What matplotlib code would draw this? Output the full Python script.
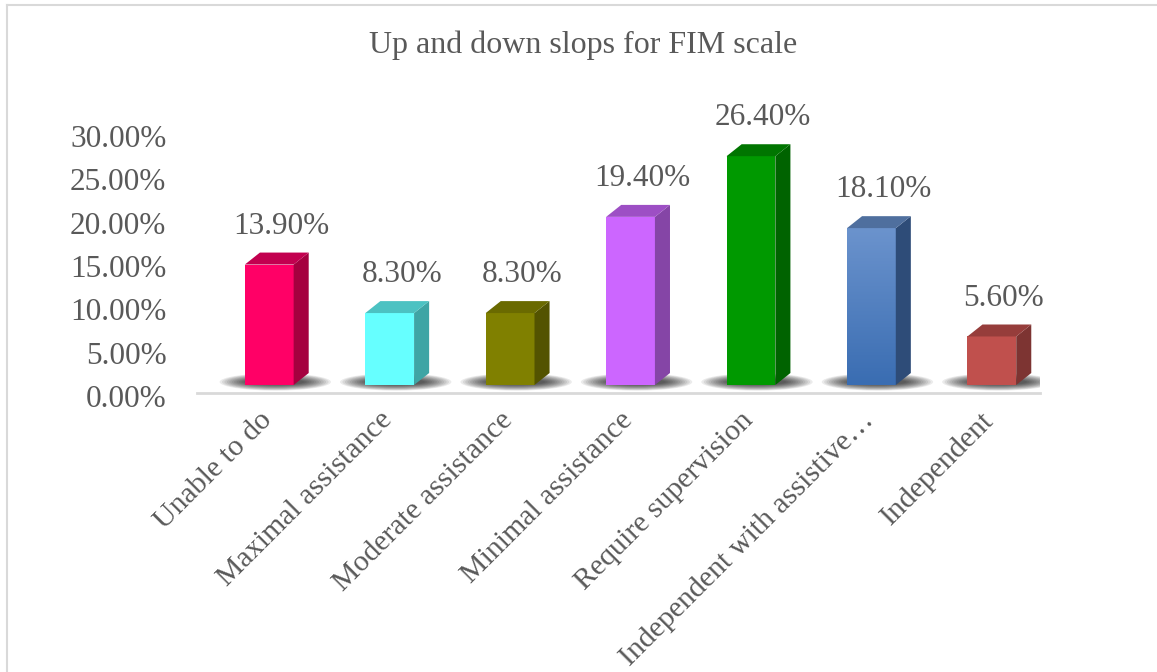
import numpy as np
import matplotlib.pyplot as plt
from matplotlib.patches import Polygon, Ellipse
from matplotlib.lines import Line2D
from matplotlib.colors import LinearSegmentedColormap

categories = ["Unable to do", "Maximal assistance", "Moderate assistance",
              "Minimal assistance", "Require supervision",
              "Independent with assistive\u2026", "Independent"]
values = [13.9, 8.3, 8.3, 19.4, 26.4, 18.1, 5.6]
labels = ["13.90%", "8.30%", "8.30%", "19.40%", "26.40%", "18.10%", "5.60%"]
yticks = [0, 5, 10, 15, 20, 25, 30]

# front / side / top colours for each box
front = ["#FF0066", "#66FFFF", "#808000", "#CC66FF", "#009900", "#5584C4", "#C0504D"]
side = ["#A5003F", "#3FA5A5", "#535300", "#8545A6", "#006300", "#2E4C78", "#7D3432"]
top = ["#C2004F", "#4CC2C2", "#6A6A00", "#9D4FC4", "#007500", "#4F6F9E", "#963D3B"]

text_col = "#595959"
font = "Liberation Serif"
fs = 22.5

W, H = 1157, 672
fig = plt.figure(figsize=(W / 100, H / 100), dpi=100)
ax = fig.add_axes([197 / W, (H - 396) / H, 843 / W, 260 / H])

x = np.arange(len(values))
base = 1.27      # floor lift of the boxes
off = 0.10       # horizontal shift of the front faces
bw = 0.405       # front face width
dx, dy = 0.125, 1.38   # depth of the boxes

ax.set_xlim(-0.5, 6.5)
ax.set_ylim(0, 30)

for i, v in enumerate(values):
    x0 = x[i] + off - bw / 2
    x1 = x0 + bw
    y1 = base + v
    # soft floor shadow
    for k in range(12):
        ax.add_patch(Ellipse((x[i] + off + 0.05, base + 0.35),
                             bw + 0.52 - k * 0.04, 2.0 - k * 0.12,
                             color="black", alpha=0.08, lw=0, zorder=1))
    if i == 5:
        # blue box has a vertical gradient on its front face
        grad = np.linspace(0, 1, 100).reshape(-1, 1)
        cm = LinearSegmentedColormap.from_list("b", ["#3A6DB2", "#6B93CD"])
        ax.imshow(grad, cmap=cm, extent=[x0, x1, base, y1], origin="lower",
                  aspect="auto", zorder=3)
    else:
        ax.add_patch(plt.Rectangle((x0, base), bw, v, color=front[i], lw=0, zorder=3))
    ax.add_patch(Polygon([(x1, base), (x1 + dx, base + dy), (x1 + dx, y1 + dy), (x1, y1)],
                         closed=True, color=side[i], lw=0, zorder=3))
    ax.add_patch(Polygon([(x0, y1), (x0 + dx, y1 + dy), (x1 + dx, y1 + dy), (x1, y1)],
                         closed=True, color=top[i], lw=0, zorder=3))
    ax.annotate(labels[i], (x[i] + off + dx * 0.8, y1 + dy), xytext=(0, 19),
                textcoords="offset points", ha="center", va="center",
                fontsize=fs, family=font, color=text_col, annotation_clip=False)

ax.plot([-0.5, 6.5], [0.3, 0.3], color="#D9D9D9", lw=2, zorder=0, clip_on=False)

for s in ax.spines.values():
    s.set_visible(False)
ax.set_yticks(yticks)
ax.set_yticklabels([f"{t:.2f}%" for t in yticks], family=font, fontsize=fs, color=text_col)
ax.set_xticks(x + 0.01)
ax.set_xticklabels(categories, rotation=45, ha="right", rotation_mode="anchor",
                   family=font, fontsize=21.5, color=text_col)
ax.tick_params(axis="y", length=0, pad=22)
ax.tick_params(axis="x", length=0, pad=8)

fig.text(583 / W, 1 - 45 / H, "Up and down slops for FIM scale", ha="center", va="center",
         fontsize=23, family=font, color=text_col)

# chart frame (top and left edges)
fig.add_artist(Line2D([6.5 / W, 1], [1 - 4.5 / H, 1 - 4.5 / H], color="#D9D9D9", lw=1.5))
fig.add_artist(Line2D([6.5 / W, 6.5 / W], [0, 1 - 4.5 / H], color="#D9D9D9", lw=1.5))

fig.savefig("out.png", dpi=100)
